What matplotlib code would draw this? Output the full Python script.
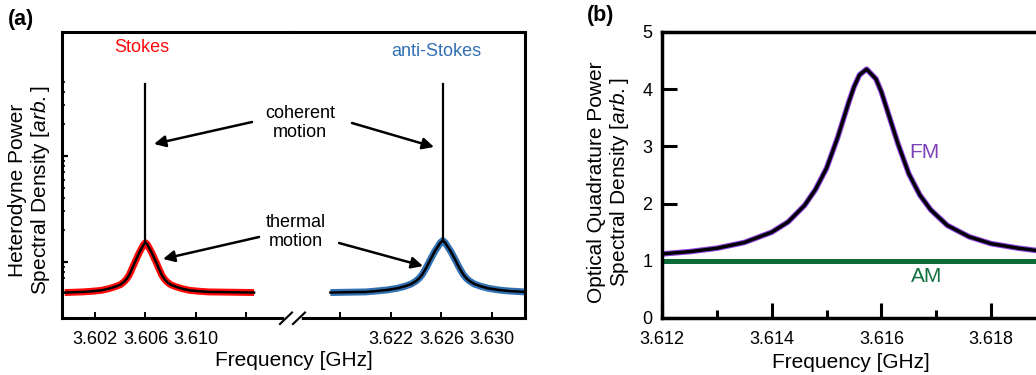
import numpy as np
import matplotlib
matplotlib.use("Agg")
import matplotlib.pyplot as plt
from matplotlib.lines import Line2D
from matplotlib.patches import FancyArrowPatch

plt.rcParams["font.family"] = ["Liberation Sans", "DejaVu Sans"]
plt.rcParams["mathtext.fontset"] = "custom"
plt.rcParams["mathtext.rm"] = "Liberation Sans"
plt.rcParams["mathtext.it"] = "Liberation Sans:italic"

# ---- panel (a): heterodyne PSD, Stokes / anti-Stokes (log y) ----
stokes_freq = [3.5996, 3.6010, 3.6018, 3.6025, 3.6031, 3.6036, 3.6040, 3.6043, 3.6045, 3.6047,
               3.60485, 3.6050, 3.60515, 3.6053, 3.6055, 3.6057, 3.60585, 3.6060,
               3.60615, 3.6063, 3.6065, 3.6067, 3.60685, 3.6070, 3.60715, 3.6073, 3.6075,
               3.6077, 3.6080, 3.6084, 3.6089, 3.6095, 3.6102, 3.6110, 3.6146]
stokes_psd = [0.515, 0.522, 0.53, 0.54, 0.56, 0.585, 0.61, 0.65, 0.69, 0.75,
              0.82, 0.90, 0.99, 1.08, 1.22, 1.35, 1.46, 1.52,
              1.46, 1.35, 1.22, 1.08, 0.99, 0.90, 0.82, 0.75, 0.69,
              0.65, 0.61, 0.585, 0.56, 0.54, 0.53, 0.522, 0.515]
stokes_spike = (3.606, 1.52, 47.5)  # freq, bottom, top

anti_freq = [3.6172, 3.6200, 3.6209, 3.6217, 3.6225, 3.6231, 3.6236, 3.62397, 3.62422, 3.62447,
             3.62466, 3.62485, 3.62504, 3.62522, 3.62547, 3.62572, 3.62591, 3.6261,
             3.62629, 3.62648, 3.62673, 3.62698, 3.62716, 3.62735, 3.62754, 3.62773, 3.62798,
             3.62823, 3.6286, 3.6291, 3.6297, 3.6305, 3.6313, 3.6326]
anti_psd = [0.515, 0.522, 0.533, 0.545, 0.565, 0.59, 0.62, 0.66, 0.70, 0.76,
            0.83, 0.91, 1.01, 1.11, 1.26, 1.40, 1.52, 1.59,
            1.52, 1.40, 1.26, 1.11, 1.01, 0.91, 0.83, 0.76, 0.70,
            0.66, 0.62, 0.59, 0.565, 0.545, 0.533, 0.522]
anti_spike = (3.6261, 1.59, 48.0)

a_left_ticks = [3.602, 3.606, 3.610, 3.614]
a_left_labels = ["3.602", "3.606", "3.610", ""]
a_right_ticks = [3.618, 3.622, 3.626, 3.630]
a_right_labels = ["", "3.622", "3.626", "3.630"]

# ---- panel (b): optical quadrature PSD ----
fm_freq = [3.6120, 3.6125, 3.6130, 3.6135, 3.6140, 3.6143, 3.6146, 3.6148, 3.6150, 3.6152,
           3.6154, 3.6155, 3.6156, 3.61573, 3.6159, 3.6160, 3.6161, 3.6163, 3.6165, 3.6167,
           3.6169, 3.6172, 3.6176, 3.6180, 3.6185, 3.6190]
fm_psd = [1.12, 1.16, 1.22, 1.32, 1.50, 1.68, 1.97, 2.25, 2.62, 3.15,
          3.76, 4.04, 4.25, 4.35, 4.18, 3.95, 3.65, 3.05, 2.52, 2.15,
          1.89, 1.62, 1.42, 1.30, 1.22, 1.16]
am_freq = [3.6120, 3.6190]
am_psd = [1.0, 1.0]

b_major = [3.612, 3.614, 3.616, 3.618]
b_minor = [3.613, 3.615, 3.617]

W, H = 1036, 375
fig = plt.figure(figsize=(W / 100, H / 100), dpi=100)


def box(x0, y0, x1, y1):
    # pixel box (top-left origin) -> figure fraction rect
    return [x0 / W, 1 - y1 / H, (x1 - x0) / W, (y1 - y0) / H]


def fp(x, y):
    return (x / W, 1 - y / H)


red = "#ff0a0a"
blue = "#3270b2"

axL = fig.add_axes(box(62, 32, 290, 318))
axR = fig.add_axes(box(290, 32, 525, 318), sharey=axL)

for ax in (axL, axR):
    ax.set_yscale("log")
    ax.set_ylim(0.2962, 147.9)
    for s in ax.spines.values():
        s.set_linewidth(2.2)
    ax.tick_params(axis="x", direction="in", length=4.5, width=1.4, labelsize=13, pad=9)

axL.spines["right"].set_visible(False)
axR.spines["left"].set_visible(False)
axR.tick_params(axis="y", which="both", left=False, labelleft=False)

axL.set_xlim(3.599386, 3.617446)
axR.set_xlim(3.614, 3.632614)
axL.set_xticks(a_left_ticks)
axL.set_xticklabels(a_left_labels)
axR.set_xticks(a_right_ticks)
axR.set_xticklabels(a_right_labels)

axL.set_yticks([1, 10])
axL.set_yticks([0.7, 0.8, 0.9, 2, 3, 4, 5, 6, 7, 8, 9, 20, 30, 40, 50], minor=True)
axL.yaxis.set_major_formatter(plt.NullFormatter())
axL.yaxis.set_minor_formatter(plt.NullFormatter())
axL.tick_params(axis="y", which="major", direction="in", length=4.5, width=1.6)
axL.tick_params(axis="y", which="minor", direction="in", length=2.2, width=1.2)
axL.tick_params(axis="y", labelleft=False)

axL.plot(stokes_freq, stokes_psd, color=red, lw=5, solid_capstyle="butt")
axL.plot(stokes_freq, stokes_psd, color="k", lw=1.8)
axL.plot([stokes_spike[0]] * 2, stokes_spike[1:], color="k", lw=1.6)

axR.plot(anti_freq, anti_psd, color=blue, lw=5, solid_capstyle="butt")
axR.plot(anti_freq, anti_psd, color="k", lw=1.8)
axR.plot([anti_spike[0]] * 2, anti_spike[1:], color="k", lw=1.6)

# break marks on the bottom axis
fig.add_artist(Line2D([287 / W, 299 / W], [1 - 318 / H] * 2, color="white", lw=4))
for x0 in (280, 293):
    fig.add_artist(Line2D([x0 / W, (x0 + 12) / W], [1 - 324 / H, 1 - 312.5 / H], color="k", lw=1.5))

fig.text(*fp(21, 19), "(a)", fontsize=15.5, fontweight="bold", ha="center", va="center")
fig.text(*fp(142, 47), "Stokes", color=red, fontsize=13, ha="center", va="center")
fig.text(*fp(436, 51), "anti-Stokes", color=blue, fontsize=13, ha="center", va="center")
fig.text(*fp(300, 123), "coherent\nmotion", fontsize=13, ha="center", va="center", linespacing=1.15)
fig.text(*fp(296, 232), "thermal\nmotion", fontsize=13, ha="center", va="center", linespacing=1.15)

arrows = [((252, 122), (154, 144)), ((352, 123), (434, 147)),
          ((259, 237), (163, 259)), ((339, 243), (423, 266))]
for (sx, sy), (ex, ey) in arrows:
    fig.add_artist(FancyArrowPatch(
        fp(sx, sy), fp(ex, ey), transform=fig.transFigure,
        arrowstyle="-|>", mutation_scale=17, lw=1.8, color="k", shrinkA=0, shrinkB=0))

fig.text(*fp(30, 190), "Heterodyne Power\nSpectral Density [$\\mathit{arb.}$]",
         fontsize=15, rotation=90, ha="center", va="center", linespacing=1.15)
fig.text(*fp(294, 361), "Frequency [GHz]", fontsize=15, ha="center", va="center")

# ---- panel (b) ----
axB = fig.add_axes(box(662, 32, 1046, 318))
axB.set_xlim(3.612, 3.619)
axB.set_ylim(0, 5)
for s in axB.spines.values():
    s.set_linewidth(2.5)
axB.plot(am_freq, am_psd, color="#0c6a37", lw=3.6, solid_capstyle="butt")
axB.plot(fm_freq, fm_psd, color="#8a3fd8", lw=4.0)
axB.plot(fm_freq, fm_psd, color="k", lw=2.4)
axB.set_xticks(b_major)
axB.set_xticklabels(["3.612", "3.614", "3.616", "3.618"])
axB.set_xticks(b_minor, minor=True)
axB.set_yticks([0, 1, 2, 3, 4, 5])
axB.tick_params(axis="both", which="major", direction="in", length=10.5, width=2.2, labelsize=13)
axB.tick_params(axis="x", which="major", pad=9)
axB.tick_params(axis="y", which="major", pad=7)
axB.tick_params(axis="x", which="minor", direction="in", length=5.5, width=2.2)

fig.text(*fp(601, 16), "(b)", fontsize=15.5, fontweight="bold", ha="center", va="center")
fig.text(*fp(924, 153), "FM", color="#7d41b8", fontsize=15, ha="center", va="center")
fig.text(*fp(927, 276), "AM", color="#13723f", fontsize=15, ha="center", va="center")
fig.text(*fp(609, 182), "Optical Quadrature Power\nSpectral Density [$\\mathit{arb.}$]",
         fontsize=15, rotation=90, ha="center", va="center", linespacing=1.15)
fig.text(*fp(851, 363), "Frequency [GHz]", fontsize=15, ha="center", va="center")

fig.savefig("out.png", dpi=100)
